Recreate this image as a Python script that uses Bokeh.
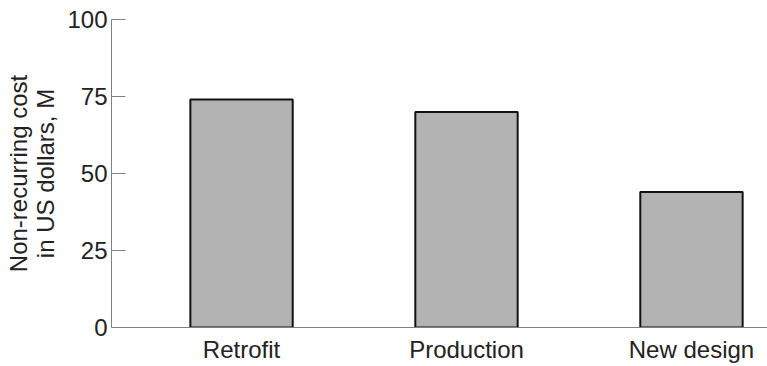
from bokeh.plotting import figure
from bokeh.models import ColumnDataSource, Range1d, FixedTicker
from bokeh.embed import file_html
from bokeh.resources import INLINE

categories = ["Retrofit", "Production", "New design"]
costs = [74, 70, 44]
y_ticks = [0, 25, 50, 75, 100]

xs = list(range(len(categories)))
src = ColumnDataSource(dict(x=xs, top=costs))

FONT = "Liberation Sans"
TXT = "#222222"
AX = "#808080"

p = figure(width=767, height=366, output_backend="svg", toolbar_location=None,
           x_range=Range1d(-0.578, 2.338), y_range=Range1d(0, 100),
           min_border_left=111, min_border_right=0, min_border_top=19, min_border_bottom=39)
p.outline_line_color = None
p.xgrid.grid_line_color = None
p.ygrid.grid_line_color = None

p.vbar(x="x", top="top", bottom=0, width=0.455, source=src,
       fill_color="#b3b3b3", line_color="#111111", line_width=2)

p.yaxis.ticker = FixedTicker(ticks=y_ticks)
p.yaxis.major_tick_in = 14
p.yaxis.major_tick_out = 0
p.yaxis.minor_tick_line_color = None
p.yaxis.axis_line_color = AX
p.yaxis.major_tick_line_color = AX
p.yaxis.major_label_text_font = FONT
p.yaxis.major_label_text_font_size = "24px"
p.yaxis.major_label_text_color = TXT
p.yaxis.major_label_standoff = 4
p.yaxis.axis_label = "Non-recurring cost\nin US dollars, M"
p.yaxis.axis_label_text_font = FONT
p.yaxis.axis_label_text_font_size = "24px"
p.yaxis.axis_label_text_font_style = "normal"
p.yaxis.axis_label_text_color = TXT
p.yaxis.axis_label_text_line_height = 1.0
p.yaxis.axis_label_standoff = 5

p.xaxis.ticker = FixedTicker(ticks=xs)
p.xaxis.major_label_overrides = {i: c for i, c in zip(xs, categories)}
p.xaxis.major_tick_line_color = None
p.xaxis.minor_tick_line_color = None
p.xaxis.axis_line_color = AX
p.xaxis.major_label_text_font = FONT
p.xaxis.major_label_text_font_size = "24px"
p.xaxis.major_label_text_color = TXT
p.xaxis.major_label_standoff = 2

open("out.html", "w").write(file_html(p, INLINE))
